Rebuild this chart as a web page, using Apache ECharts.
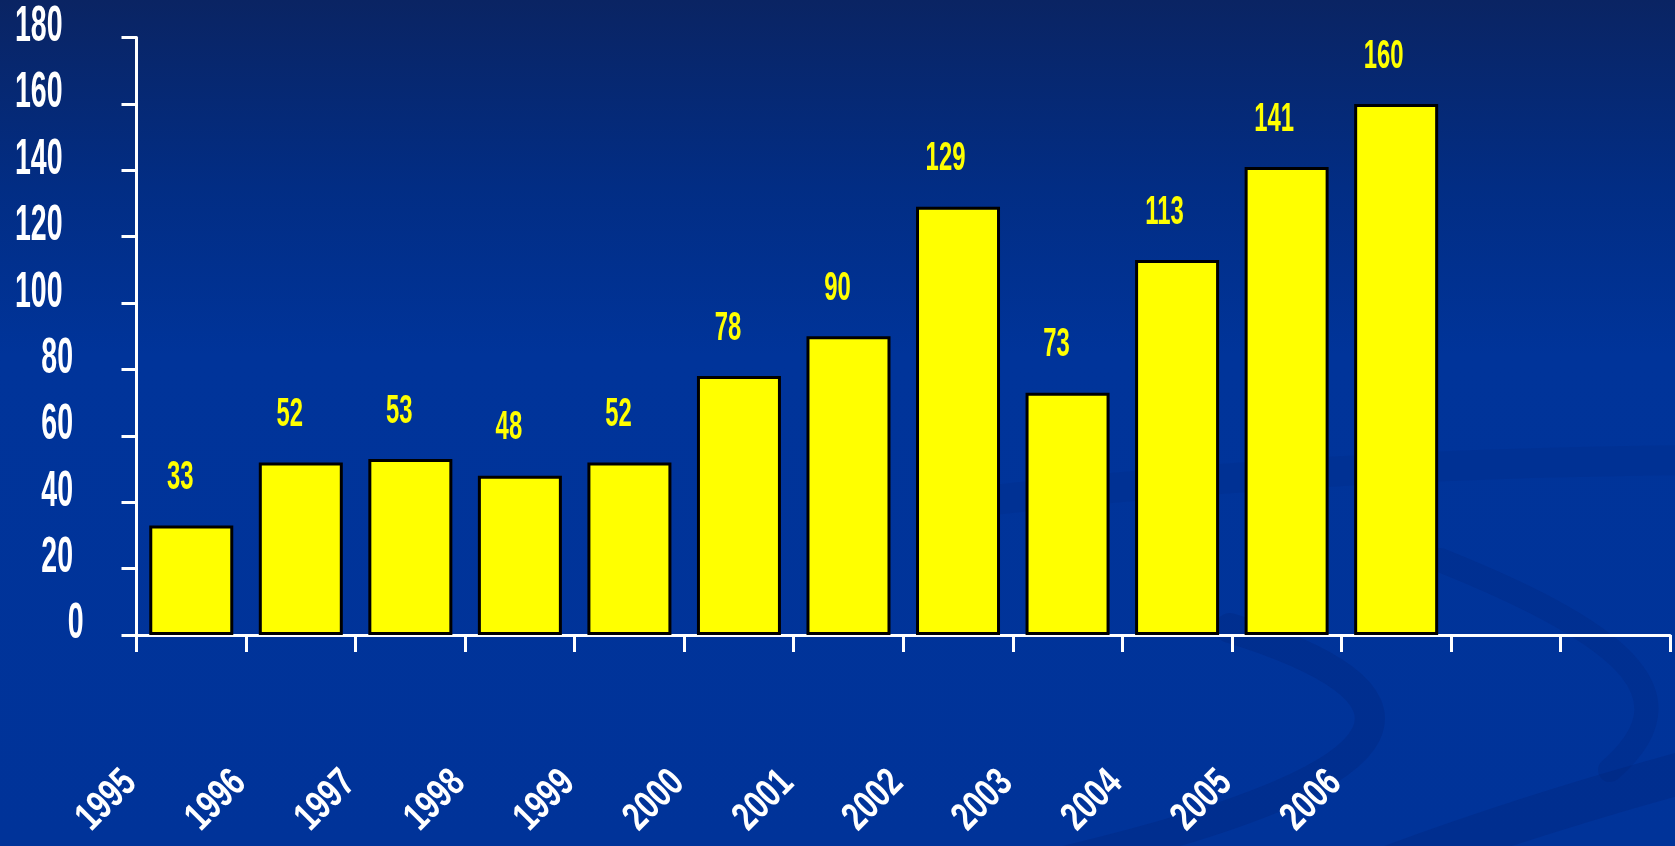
<!DOCTYPE html>
<html>
<head>
<meta charset="utf-8">
<script src="https://cdn.jsdelivr.net/npm/echarts@6/dist/echarts.min.js"></script>
<style>
html,body{margin:0;padding:0;background:#003399;overflow:hidden;}
#c{width:1675px;height:846px;}
</style>
</head>
<body>
<div id="c"></div>
<script>
// ---- data ----
const categories = ['1995','1996','1997','1998','1999','2000','2001','2002','2003','2004','2005','2006','',''];
const values = [33, 52, 53, 48, 52, 78, 90, 129, 73, 113, 141, 160];
const yTicks = [0, 20, 40, 60, 80, 100, 120, 140, 160, 180];

// ---- font pick (first installed family) ----
function pickFamily(list) {
  const ctx = document.createElement('canvas').getContext('2d');
  const probe = '0123456789 AaBbWw';
  for (const f of list) {
    for (const base of ['monospace', 'serif']) {
      ctx.font = 'bold 40px ' + base;
      const w0 = ctx.measureText(probe).width;
      ctx.font = 'bold 40px "' + f + '", ' + base;
      if (Math.abs(ctx.measureText(probe).width - w0) > 0.5) return '"' + f + '", sans-serif';
    }
  }
  return 'sans-serif';
}
const FAM = pickFamily(['Liberation Sans', 'Arimo', 'Arial', 'Roboto', 'Inter']);

const GRID = {left: 136.5, right: 5, top: 37.5, bottom: 211};

const chart = echarts.init(document.getElementById('c'), null, {renderer: 'canvas'});

chart.setOption({
  animation: false,
  backgroundColor: {
    type: 'linear', x: 0, y: 0, x2: 0, y2: 1,
    colorStops: [
      {offset: 0, color: '#0a2463'},
      {offset: 0.22, color: '#022d84'},
      {offset: 0.42, color: '#00349a'},
      {offset: 1, color: '#003399'}
    ]
  },
  grid: {left: GRID.left, right: GRID.right, top: GRID.top, bottom: GRID.bottom, containLabel: false, outerBoundsMode: 'none'},
  xAxis: {
    type: 'category',
    data: categories,
    boundaryGap: true,
    axisLine: {show: true, lineStyle: {color: '#ffffff', width: 3}},
    axisTick: {show: true, interval: 0, length: 17, lineStyle: {color: '#ffffff', width: 3}},
    axisLabel: {show: false},
    splitLine: {show: false}
  },
  yAxis: {
    type: 'value',
    min: yTicks[0], max: yTicks[yTicks.length - 1], interval: yTicks[1] - yTicks[0],
    axisLine: {show: true, lineStyle: {color: '#ffffff', width: 3}},
    axisTick: {show: true, length: 15, lineStyle: {color: '#ffffff', width: 3}},
    axisLabel: {show: false},
    splitLine: {show: false}
  },
  series: [{
    type: 'bar',
    data: values,
    barWidth: 84,
    itemStyle: {color: '#ffff00', borderColor: '#000000', borderWidth: 3},
    label: {show: false}
  }]
});

// ---- condensed text labels placed through the chart's own scales ----
const graphics = [];

// decorative background swooshes
function swoosh(x1, y1, c1x, c1y, c2x, c2y, x2, y2, w, a) {
  graphics.push({type: 'bezierCurve', silent: true, z: -10,
    shape: {x1: x1, y1: y1, cpx1: c1x, cpy1: c1y, cpx2: c2x, cpy2: c2y, x2: x2, y2: y2},
    style: {stroke: 'rgba(0,22,95,' + a + ')', lineWidth: w, fill: null, lineCap: 'round'}});
}
swoosh(1230, 628, 1430, 690, 1450, 770, 1060, 862, 30, 0.17);
swoosh(1440, 560, 1640, 640, 1690, 700, 1610, 770, 24, 0.13);
swoosh(1380, 870, 1500, 825, 1600, 795, 1700, 768, 42, 0.17);
swoosh(950, 505, 1200, 475, 1450, 462, 1700, 460, 30, 0.08);

const yZero = chart.convertToPixel({yAxisIndex: 0}, 0);

// y-axis tick labels
yTicks.forEach(function (v) {
  const s = String(v);
  const py = chart.convertToPixel({yAxisIndex: 0}, v);
  graphics.push({
    type: 'text', silent: true, z: 10,
    x: GRID.left - 53 - 10.5 * (s.length - 1), y: py - 10.3, scaleX: 0.57,
    style: {text: s, fill: '#ffffff', font: 'bold 50px ' + FAM,
            align: 'right', verticalAlign: 'middle', textAlign: 'right', textVerticalAlign: 'middle'}
  });
});

// x-axis category labels (rotated)
categories.forEach(function (c, i) {
  if (!c) return;
  const px = chart.convertToPixel({xAxisIndex: 0}, i);
  graphics.push({
    type: 'text', silent: true, z: 10,
    x: px - 61, y: yZero + 142, rotation: Math.PI / 4, scaleX: 0.75,
    style: {text: c, fill: '#ffffff', font: 'bold 40px ' + FAM,
            align: 'right', verticalAlign: 'middle', textAlign: 'right', textVerticalAlign: 'middle'}
  });
});

// value labels above bars
values.forEach(function (v, i) {
  const s = String(v);
  const p = chart.convertToPixel({seriesIndex: 0}, [i, v]);
  graphics.push({
    type: 'text', silent: true, z: 10,
    x: p[0] - 11 - 1.5 * (s.length - 2), y: p[1] - 47.8, scaleX: 0.575,
    style: {text: s, fill: '#ffff00', font: 'bold 41.5px ' + FAM,
            align: 'center', verticalAlign: 'middle', textAlign: 'center', textVerticalAlign: 'middle'}
  });
});

chart.setOption({graphic: graphics});
</script>
</body>
</html>
